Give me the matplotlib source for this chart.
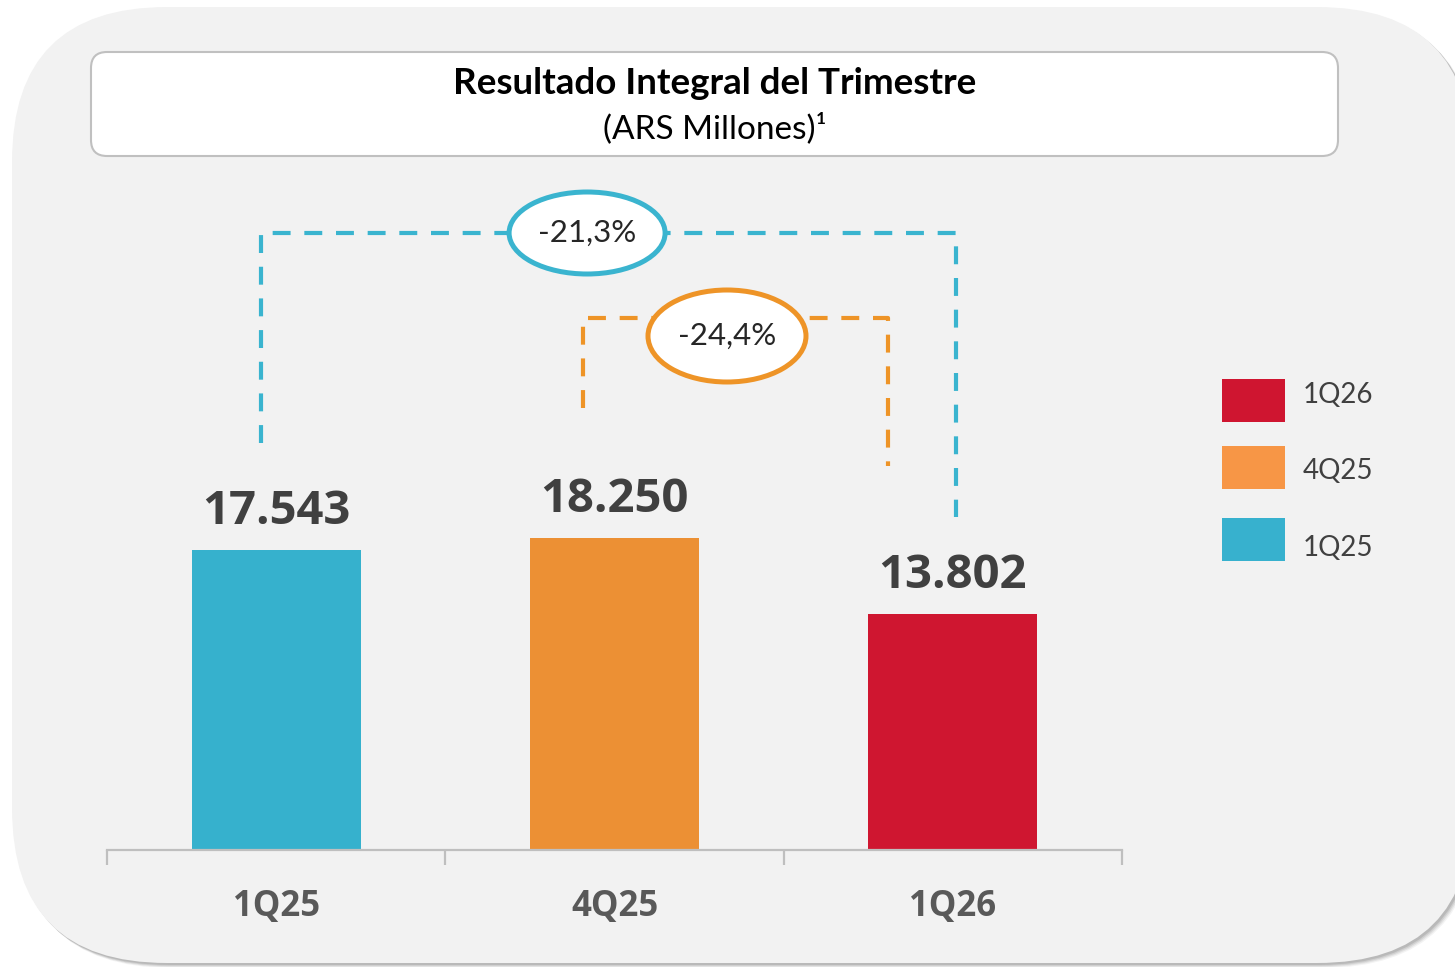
import matplotlib
matplotlib.use("Agg")
import matplotlib.pyplot as plt
from matplotlib.patches import FancyBboxPatch, Ellipse, Rectangle

# ---------------- data ----------------
categories = ["1Q25", "4Q25", "1Q26"]
values = [17543, 18250, 13802]
bar_colors = ["#36b1cd", "#ec9034", "#cf1630"]
value_labels = ["17.543", "18.250", "13.802"]

legend_labels = ["1Q26", "4Q25", "1Q25"]
legend_colors = ["#cf1530", "#f79646", "#37b1ce"]

title = "Resultado Integral del Trimestre"
subtitle = "(ARS Millones)\u00b9"

def pct(a, b):
    return "{:+.1f}%".format((b / a - 1) * 100).replace(".", ",").replace("+", "")

change_vs_1q25 = pct(values[0], values[2])   # -21,3%
change_vs_4q25 = pct(values[1], values[2])   # -24,4%

CYAN = "#3ab4cf"
ORANGE = "#ee9427"

# ---------------- figure ----------------
W, H = 1455, 967
fig = plt.figure(figsize=(W / 100, H / 100), dpi=100, facecolor="white")

# background overlay in pixel coordinates
bg = fig.add_axes([0, 0, 1, 1], zorder=0)
bg.set_xlim(0, W)
bg.set_ylim(H, 0)
bg.axis("off")

# shadow of panel
for i, a in enumerate([0.08, 0.12, 0.16, 0.22]):
    off = 5 - i
    bg.add_patch(FancyBboxPatch((12 + off, 7 + off), 1460, 956,
                                boxstyle="round,pad=0,rounding_size=155",
                                facecolor="#6f6f6f", edgecolor="none", alpha=a))
bg.add_patch(FancyBboxPatch((12, 7), 1460, 956,
                            boxstyle="round,pad=0,rounding_size=155",
                            facecolor="#f2f2f2", edgecolor="none"))
# title box
bg.add_patch(FancyBboxPatch((91, 52), 1247, 104,
                            boxstyle="round,pad=0,rounding_size=16",
                            facecolor="white", edgecolor="#c0c0c0", lw=1.5))
bg.text(715, 83, title, ha="center", va="center", fontsize=26.5,
        fontweight="bold", family=["Lato", "DejaVu Sans"], color="black")
bg.text(715, 128, subtitle, ha="center", va="center", fontsize=24,
        family=["Lato", "DejaVu Sans"], color="black")

# legend (manual)
leg_sq_y = [400, 467, 539]
leg_tx_y = [395, 471, 548]
for lab, col, sy, ty in zip(legend_labels, legend_colors, leg_sq_y, leg_tx_y):
    bg.add_patch(Rectangle((1222, sy - 21.5), 63, 43, facecolor=col, edgecolor="none"))
    bg.text(1303, ty, lab, ha="left", va="center", fontsize=20,
            family=["Lato", "DejaVu Sans"], color="#404040")

# ---------------- bar axes ----------------
ax_left, ax_right, ax_bottom, ax_top = 107, 1122, 850, 170
ax = fig.add_axes([ax_left / W, 1 - ax_bottom / H,
                   (ax_right - ax_left) / W, (ax_bottom - ax_top) / H], zorder=2)
ax.patch.set_alpha(0)
unit = values[0] / 300.0
ax.set_xlim(-0.5, 2.5)
ax.set_ylim(0, (ax_bottom - ax_top) * unit)

x = list(range(len(categories)))
bars = ax.bar(x, values, width=0.5, color=bar_colors, zorder=2)

for xi, v, lab in zip(x, values, value_labels):
    ax.annotate(lab, (xi, v), xytext=(0, 19), textcoords="offset points",
                ha="center", va="baseline", fontsize=34, fontweight="bold",
                family=["Open Sans", "DejaVu Sans"], color="#404040")

for s in ["top", "left", "right"]:
    ax.spines[s].set_visible(False)
ax.spines["bottom"].set_color("#bfbfbf")
ax.spines["bottom"].set_linewidth(1.6)
ax.set_yticks([])
ax.set_xticks(x)
ax.set_xticklabels(categories, fontsize=25, fontweight="bold",
                   family=["Open Sans", "DejaVu Sans"], color="#595959")
ax.tick_params(axis="x", which="major", length=0, pad=28)
ax.set_xticks([-0.5, 0.5, 1.5, 2.5], minor=True)
ax.tick_params(axis="x", which="minor", length=11, width=1.6, color="#bfbfbf",
               direction="out")

def py(p):
    """pixel row -> data value (layout helper)"""
    return (ax_bottom - p) * unit

# cyan bracket (1Q25 -> 1Q26)
ax.plot([-0.045, -0.045, 2.009, 2.009], [py(443), py(233), py(233), py(517)],
        color=CYAN, lw=3.0, dashes=(4.3, 3.3), solid_capstyle="butt",
        dash_capstyle="butt", clip_on=False, zorder=3)
# orange bracket (4Q25 -> 1Q26)
ax.plot([0.907, 0.907, 1.808, 1.808], [py(408), py(318), py(318), py(466)],
        color=ORANGE, lw=3.0, dashes=(4.3, 3.3), solid_capstyle="butt",
        dash_capstyle="butt", clip_on=False, zorder=3)

# ellipses with percentages
ax.add_patch(Ellipse((0.919, py(233)), 156 / 338.33, 82 * unit,
                     facecolor="white", edgecolor=CYAN, lw=3.6, zorder=4, clip_on=False))
ax.text(0.919, py(233), change_vs_1q25, ha="center", va="center", fontsize=22.5,
        family=["Lato", "DejaVu Sans"], color="#262626", zorder=5)
ax.add_patch(Ellipse((1.3325, py(336)), 158 / 338.33, 92 * unit,
                     facecolor="white", edgecolor=ORANGE, lw=3.6, zorder=4, clip_on=False))
ax.text(1.3325, py(336), change_vs_4q25, ha="center", va="center", fontsize=22.5,
        family=["Lato", "DejaVu Sans"], color="#262626", zorder=5)

fig.savefig("out.png", dpi=100, facecolor="white")
